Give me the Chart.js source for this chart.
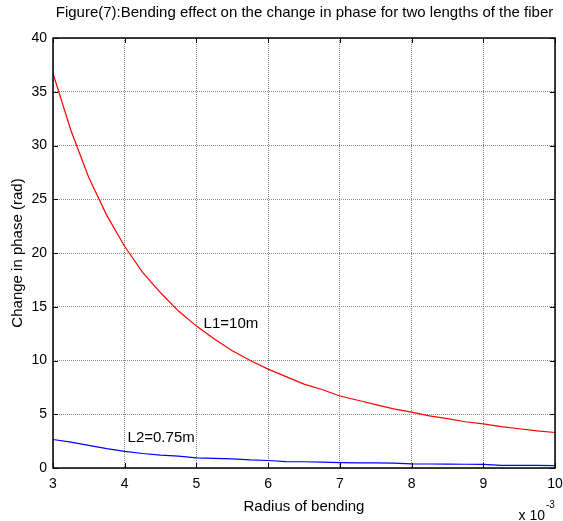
<!DOCTYPE html>
<html>
<head>
<meta charset="utf-8">
<script src="https://cdn.jsdelivr.net/npm/chart.js@4"></script>
<style>
  html, body { margin:0; padding:0; background:#fff; }
  #wrap { width:563px; height:521px; }
</style>
</head>
<body>
<div id="wrap"><canvas id="c" width="563" height="521"></canvas></div>
<script>
// Radius of bending (x 10^-3)
const radius = [3.00,3.25,3.50,3.75,4.00,4.25,4.50,4.75,5.00,5.25,5.50,5.75,6.00,6.25,6.50,6.75,7.00,7.25,7.50,7.75,8.00,8.25,8.50,8.75,9.00,9.25,9.50,9.75,10.00];
// L1 = 10m
const phaseL1 = [36.7,31.4,27.0,23.5,20.6,18.2,16.3,14.6,13.2,12.0,10.9,10.0,9.2,8.5,7.8,7.3,6.7,6.3,5.9,5.5,5.2,4.85,4.6,4.3,4.1,3.85,3.65,3.45,3.3];
// L2 = 0.75m
const phaseL2 = [2.65,2.4,2.1,1.8,1.55,1.35,1.2,1.1,0.95,0.9,0.85,0.75,0.7,0.6,0.58,0.55,0.5,0.48,0.47,0.45,0.38,0.37,0.36,0.35,0.34,0.25,0.24,0.24,0.23];
const xTicks = [3,4,5,6,7,8,9,10];
const yTicks = [0,5,10,15,20,25,30,35,40];
const labels = [
  { text:'L1=10m', x:5.10, y:13.4 },
  { text:'L2=0.75m', x:4.04, y:2.8 }
];
const title = 'Figure(7):Bending effect on the change in phase for two lengths of the fiber';

const FONT = 'Arial, "Liberation Sans", sans-serif';

const decor = {
  id:'decor',
  afterDraw(chart) {
    const ctx = chart.ctx, a = chart.chartArea;
    const xs = chart.scales.x, ys = chart.scales.y;
    ctx.save();
    // frame
    ctx.strokeStyle = '#000'; ctx.lineWidth = 1.5;
    ctx.strokeRect(a.left, a.top, a.right - a.left, a.bottom - a.top);
    // inward ticks
    ctx.lineWidth = 1;
    ctx.beginPath();
    xTicks.forEach(v => {
      const px = Math.round(xs.getPixelForValue(v)) + 0.5;
      ctx.moveTo(px, a.bottom); ctx.lineTo(px, a.bottom - 5);
      ctx.moveTo(px, a.top); ctx.lineTo(px, a.top + 5);
    });
    yTicks.forEach(v => {
      const py = Math.round(ys.getPixelForValue(v)) + 0.5;
      ctx.moveTo(a.left, py); ctx.lineTo(a.left + 5, py);
      ctx.moveTo(a.right, py); ctx.lineTo(a.right - 5, py);
    });
    ctx.stroke();
    // title
    ctx.fillStyle = '#000';
    ctx.font = '15px ' + FONT;
    ctx.textAlign = 'center'; ctx.textBaseline = 'middle';
    ctx.fillText(title, (a.left + a.right) / 2 + 0.5, 13);
    // curve labels
    ctx.font = '15px ' + FONT;
    ctx.textAlign = 'left';
    labels.forEach(l => ctx.fillText(l.text, xs.getPixelForValue(l.x), ys.getPixelForValue(l.y)));
    // exponent
    ctx.font = '14px ' + FONT;
    ctx.textAlign = 'right';
    ctx.fillText('x 10', a.right - 10, 516);
    ctx.font = '10px ' + FONT;
    ctx.textAlign = 'left';
    ctx.fillText('-3', a.right - 9, 505);
    ctx.restore();
  }
};

new Chart(document.getElementById('c'), {
  type:'line',
  data:{
    datasets:[
      { label:'L1=10m', data: radius.map((r,i) => ({x:r, y:phaseL1[i]})), borderColor:'#ff0000', borderWidth:1.2, pointRadius:0, tension:0 },
      { label:'L2=0.75m', data: radius.map((r,i) => ({x:r, y:phaseL2[i]})), borderColor:'#0000ff', borderWidth:1.2, pointRadius:0, tension:0 }
    ]
  },
  options:{
    responsive:false, animation:false,
    layout:{ padding:{ top:38, right:8, left:0, bottom:0 } },
    plugins:{ legend:{display:false}, tooltip:{enabled:false}, title:{display:false} },
    scales:{
      x:{
        type:'linear', min:3, max:10,
        afterBuildTicks: s => { s.ticks = xTicks.map(v => ({value:v})); },
        afterFit: s => { s.height = 53; s.paddingLeft = 0; s.paddingRight = 0; },
        grid:{ color:'#8a8a8a', drawTicks:false, lineWidth:1 },
        border:{ display:false, dash:[1,1] },
        ticks:{ color:'#000', padding:8, font:{ size:14, family:FONT }, maxRotation:0 },
        title:{ display:true, text:'Radius of bending', color:'#000', font:{ size:15, family:FONT }, padding:{ top:0, bottom:5 } }
      },
      y:{
        min:0, max:40,
        afterBuildTicks: s => { s.ticks = yTicks.map(v => ({value:v})); },
        afterFit: s => { s.width = 53; s.paddingTop = 0; s.paddingBottom = 0; },
        grid:{ color:'#8a8a8a', drawTicks:false, lineWidth:1 },
        border:{ display:false, dash:[1,1] },
        ticks:{ color:'#000', padding:6, font:{ size:14, family:FONT } },
        title:{ display:true, text:'Change in phase (rad)', color:'#000', font:{ size:15, family:FONT }, padding:{ top:9, bottom:0 } }
      }
    }
  },
  plugins:[decor]
});
</script>
</body>
</html>
